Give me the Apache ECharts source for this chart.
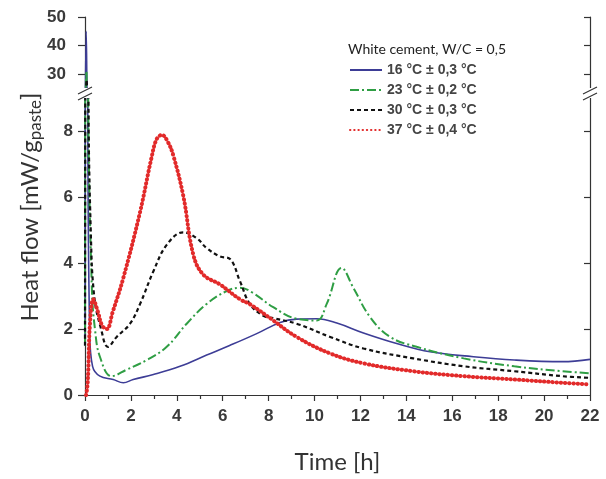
<!DOCTYPE html>
<html>
<head>
<meta charset="utf-8">
<script src="https://cdn.jsdelivr.net/npm/echarts@6/dist/echarts.min.js"></script>
<style>
html, body { margin: 0; padding: 0; background: #fff; }
#chart { width: 606px; height: 479px; }
</style>
</head>
<body>
<div id="chart"></div>
<script>
// 数据 (Time [h], Heat flow [mW/g])
const names = ['16 °C ± 0,3 °C', '23 °C ± 0,2 °C', '30 °C ± 0,3 °C', '37 °C ± 0,4 °C'];

const blue16 = [[0,1.5],[0.05,45],[0.12,9],[0.2,2],[0.33,0.87],[0.65,0.57],[1.23,0.47],[1.67,0.37],[2.1,0.47],[2.98,0.62],[4.14,0.87],[5.3,1.21],[6.3,1.5],[7.48,1.86],[8.5,2.2],[9.22,2.3],[10.1,2.31],[10.97,2.18],[12.13,1.88],[13.58,1.56],[15.03,1.31],[16.92,1.16],[18.7,1.06],[20.8,1.01],[22,1.08]];

const green23 = [[0,1.5],[0.06,31],[0.14,9],[0.3,3.2],[0.44,1.96],[0.65,1.16],[1.16,0.57],[1.82,0.77],[2.69,1.06],[3.56,1.46],[4.43,2.16],[5.3,2.76],[6.17,3.15],[6.75,3.25],[7.3,3.1],[8.2,2.66],[9.22,2.31],[10.1,2.26],[10.53,2.76],[11.18,3.85],[11.69,3.25],[12.42,2.36],[13.29,1.76],[14.45,1.46],[16.5,1.11],[18.7,0.87],[20.8,0.72],[22,0.66]];

const black30 = [[0,1.5],[0.07,28],[0.15,9],[0.25,5],[0.4,3.0],[0.7,2.0],[1.0,1.46],[1.38,1.76],[1.96,2.16],[2.4,2.76],[2.98,3.75],[3.56,4.55],[4.28,4.93],[4.87,4.75],[5.3,4.45],[5.88,4.2],[6.32,4.12],[6.75,3.45],[7.19,2.75],[7.77,2.4],[8.2,2.33],[9.22,2.16],[10.68,1.76],[12.13,1.41],[14.3,1.11],[16.5,0.87],[18.7,0.72],[20.8,0.57],[22,0.52]];

const red37 = [[0.05,0],[0.12,0.4],[0.22,2.2],[0.36,2.9],[0.55,2.55],[0.75,2.1],[0.95,2.0],[1.2,2.5],[1.67,3.55],[2.4,5.55],[2.9,7.2],[3.12,7.75],[3.35,7.88],[3.6,7.68],[3.85,7.25],[4.28,6.04],[4.72,4.25],[5.15,3.65],[5.88,3.35],[6.75,2.9],[7.19,2.75],[8.2,2.26],[9.22,1.76],[10.68,1.26],[12.13,0.96],[14.3,0.72],[16.5,0.57],[18.7,0.47],[20.8,0.37],[22,0.32]];

const upperTicks = [30, 40, 50];
const lowerTicks = [0, 2, 4, 6, 8];

const chart = echarts.init(document.getElementById('chart'));

const axisColor = '#333';
const labelStyle = { color: '#3a3a3a', fontFamily: 'Liberation Sans', fontWeight: 'bold', fontSize: 17 };

// 线型
const styles = [
    { color: '#3d3d96', width: 1.6, type: 'solid' },
    { color: '#2f9e44', width: 2, type: [9, 3, 2, 3] },
    { color: '#111', width: 2.2, type: [4, 3] },
    { color: '#e22a2a', width: 4, type: [0.4, 3.8], cap: 'round' }
];
const datasets = [blue16, green23, black30, red37];

function makeSeries(gridIdx) {
    return datasets.map((d, i) => ({
        name: names[i],
        type: 'line',
        xAxisIndex: gridIdx,
        yAxisIndex: gridIdx * 2,
        data: d,
        symbol: 'none',
        smooth: 0.4,
        clip: true,
        color: styles[i].color,
        lineStyle: styles[i],
        z: 2 + i
    }));
}

function yAxisPair(gridIdx, min, max, ticks, margin) {
    const left = {
        type: 'value', gridIndex: gridIdx, position: 'left', min: min, max: max,
        splitLine: { show: false },
        axisLine: { show: true, lineStyle: { color: axisColor, width: 1.2 } },
        axisTick: { show: true, inside: false, length: 7, customValues: ticks, lineStyle: { color: axisColor, width: 1.2 } },
        axisLabel: Object.assign({ customValues: ticks, margin: margin }, labelStyle)
    };
    const right = {
        type: 'value', gridIndex: gridIdx, position: 'right', min: min, max: max,
        splitLine: { show: false },
        axisLine: { show: true, lineStyle: { color: axisColor, width: 1.2 } },
        axisTick: { show: true, inside: true, length: 6, customValues: ticks.filter(v => v !== min), lineStyle: { color: axisColor, width: 1.2 } },
        axisLabel: { show: false }
    };
    return [left, right];
}

const option = {
    backgroundColor: '#fff',
    animation: false,
    title: {
        text: 'White cement, W/C = 0,5',
        left: 343, top: 37,
        textStyle: { fontFamily: 'Lato', fontWeight: 'normal', fontSize: 14, color: '#222' }
    },
    legend: {
        orient: 'vertical',
        left: 344, top: 58,
        itemWidth: 32, itemHeight: 8, itemGap: 6,
        data: names,
        itemStyle: { opacity: 0 },
        textStyle: { fontFamily: 'Liberation Sans', fontWeight: 'bold', fontSize: 14, color: '#444' }
    },
    grid: [
        { left: 85, right: 16, top: 17, height: 71.5 },
        { left: 85, right: 16, top: 98, bottom: 80 }
    ],
    xAxis: [
        { type: 'value', gridIndex: 0, min: 0, max: 22, interval: 2, show: false },
        {
            type: 'value', gridIndex: 1, min: 0, max: 22, interval: 2,
            name: 'Time [h]', nameLocation: 'middle', nameGap: 55,
            nameTextStyle: { fontFamily: 'Lato', fontSize: 24, color: '#333' },
            splitLine: { show: false },
            axisLine: { lineStyle: { color: axisColor, width: 1.2 } },
            axisTick: { length: 6, lineStyle: { color: axisColor, width: 1.2 } },
            minorTick: { show: true, splitNumber: 2, length: 4, lineStyle: { color: axisColor, width: 1.2 } },
            axisLabel: Object.assign({ margin: 13 }, labelStyle)
        }
    ],
    yAxis: [].concat(
        yAxisPair(0, 25, 50, upperTicks, 19),
        yAxisPair(1, 0, 9, lowerTicks, 12)
    ),
    series: makeSeries(0).concat(makeSeries(1)),
    graphic: [
        // 纵轴标题
        {
            type: 'text', x: 30, y: 207, rotation: Math.PI / 2,
            style: {
                text: 'Heat flow [mW/g{sub|paste}]',
                fontFamily: 'Lato', fontSize: 24, fill: '#333',
                align: 'center', verticalAlign: 'middle',
                rich: { sub: { fontFamily: 'Lato', fontSize: 17, fill: '#333', padding: [12, 0, 0, 0] } }
            }
        },
        // 断轴符号
        { type: 'rect', shape: { x: 80, y: 88, width: 10, height: 10 }, style: { fill: '#fff' }, z: 100 },
        { type: 'line', shape: { x1: 78, y1: 94, x2: 92, y2: 87 }, style: { stroke: axisColor, lineWidth: 1.2 }, z: 101 },
        { type: 'line', shape: { x1: 78, y1: 100, x2: 92, y2: 93 }, style: { stroke: axisColor, lineWidth: 1.2 }, z: 101 },
        { type: 'rect', shape: { x: 585, y: 88, width: 10, height: 10 }, style: { fill: '#fff' }, z: 100 },
        { type: 'line', shape: { x1: 583, y1: 94, x2: 597, y2: 87 }, style: { stroke: axisColor, lineWidth: 1.2 }, z: 101 },
        { type: 'line', shape: { x1: 583, y1: 100, x2: 597, y2: 93 }, style: { stroke: axisColor, lineWidth: 1.2 }, z: 101 }
    ]
};

chart.setOption(option);
</script>
</body>
</html>
